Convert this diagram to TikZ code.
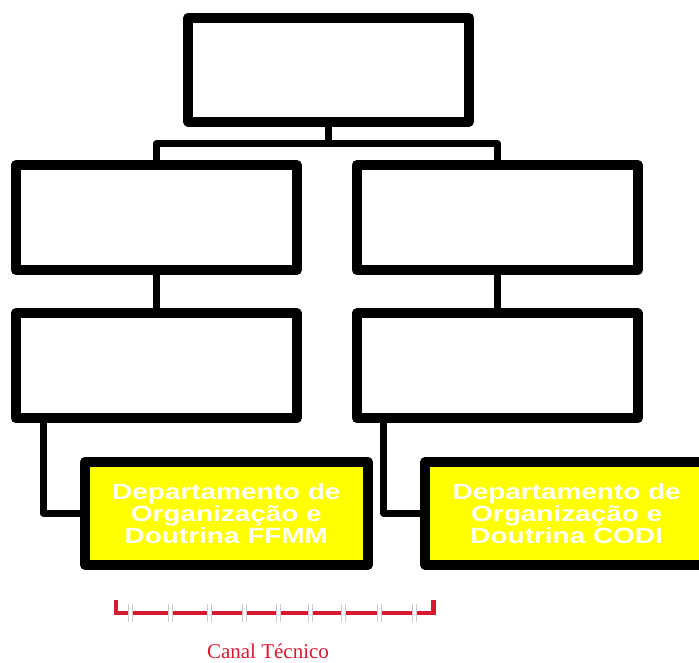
\documentclass[tikz,border=0pt]{standalone}
\usepackage{fontspec}
\setmainfont{Liberation Serif}
\newfontfamily\deptfont{Liberation Sans}[FakeStretch=1.27]
\usetikzlibrary{calc}
\definecolor{canalred}{RGB}{218,24,48}
\definecolor{gapgrey}{RGB}{205,205,205}
\definecolor{deptyellow}{RGB}{255,255,0}
\tikzset{
  orgbox/.style={draw=black, fill=white, line width=10pt, line join=round,
    rectangle, inner sep=0pt, outer sep=0pt,
    minimum width=281pt, minimum height=105pt},
  deptbox/.style={orgbox, fill=deptyellow, minimum width=282.7pt,
    minimum height=103.3pt, text=white, align=center,
    font=\deptfont\bfseries\fontsize{22}{22}\selectfont},
  link/.style={draw=black, line width=7pt, line join=round},
  canal/.style={draw=canalred, line width=4.5pt, line join=miter},
}
\begin{document}
\begin{tikzpicture}[x=1pt, y=-1pt]
\useasboundingbox (0,0) rectangle (699,662);
\clip (0,0) rectangle (699,662);

% boxes of the chart
\node[orgbox, minimum width=280.7pt, minimum height=104pt] (top) at (328.7,69.7) {};
\node[orgbox] (ml) at (156.2,217.5) {};
\node[orgbox] (mr) at (497.2,217.5) {};
\node[orgbox] (ll) at (156.2,365.8) {};
\node[orgbox] (lr) at (497.2,365.8) {};
\node[deptbox] (yl) at (226.3,513.3) {Departamento de\\Organização e\\Doutrina FFMM};
\node[deptbox] (yr) at (566.7,513.3) {Departamento de\\Organização e\\Doutrina CODI};

% connectors
\coordinate (bus) at (328.7,143.7);
\draw[link] (top.south) -- (bus);
\draw[link] (ml.north) |- (bus) -| (mr.north);
\draw[link] (ml.south) -- (ll.north);
\draw[link] (mr.south) -- (lr.north);
\coordinate (lldrop) at ($(ll.south west)+(27.6,0)$);
\coordinate (lrdrop) at ($(lr.south west)+(27.0,0)$);
\draw[link] (lldrop) |- (yl.west);
\draw[link] (lrdrop) |- (yr.west);

% technical channel bracket
\coordinate (bl) at (116,600);
\coordinate (br) at (433.5,600);
\draw[canal] (bl) -- (116,613) -- (433.5,613) -- (br);
\foreach \gx in {130,170.5,209.5,244.5,278.5,310,343.5,379.5,414.5}{
  \fill[white] (\gx-2.5,597) rectangle (\gx+2.5,620);
  \draw[gapgrey, line width=0.8pt] (\gx-2,604) -- (\gx-2,622);
  \draw[gapgrey, line width=0.8pt] (\gx+2,604) -- (\gx+2,622);
}
\node[text=canalred, font=\fontsize{21}{24}\selectfont, inner sep=0pt, anchor=base] (canaltxt) at (268,658) {Canal Técnico};
\end{tikzpicture}
\end{document}
